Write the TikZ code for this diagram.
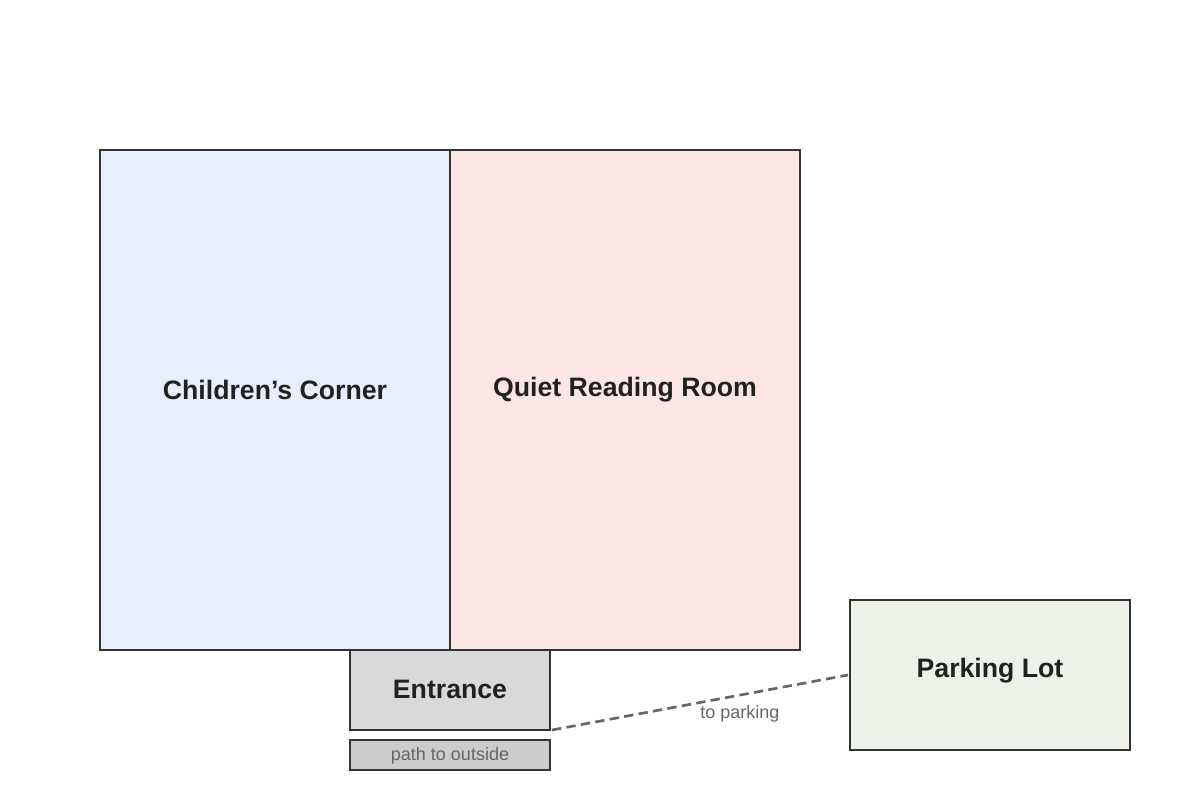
\documentclass[tikz,border=0pt]{standalone}
\usepackage{fontspec}
\setmainfont{Liberation Sans}
\begin{document}
\begin{tikzpicture}[x=0.75pt,y=-0.75pt,
  room/.style={draw=black!80,line width=2.2pt,inner sep=0pt},
  lbl/.style={font=\bfseries\fontsize{20}{24}\selectfont,text=black!87},
  small/.style={font=\fontsize{13.5}{16}\selectfont,text=black!60}]
\useasboundingbox (0,0) rectangle (1200,800);
\definecolor{cc}{HTML}{E8EEFB}
\definecolor{qr}{HTML}{FBE6E5}
\definecolor{en}{HTML}{D9D9D9}
\definecolor{po}{HTML}{CCCCCC}
\definecolor{pl}{HTML}{EDF2E8}
\filldraw[room,fill=cc] (100,150) rectangle (450,650);
\filldraw[room,fill=qr] (450,150) rectangle (800,650);
\filldraw[room,fill=en] (350,650) rectangle (550,730);
\filldraw[room,fill=po] (350,740) rectangle (550,770);
\filldraw[room,fill=pl] (850,600) rectangle (1130,750);
\node[lbl] (cc) at (275,390) {Children's Corner};
\node[lbl] (qr) at (625,390) {Quiet Reading Room};
\node[lbl] (en) at (450,689) {Entrance};
\node[small] (po) at (450,756) {path to outside};
\node[lbl] (pl) at (990,671) {Parking Lot};
\coordinate (a) at (552,730);
\coordinate (b) at (848,675);
\draw[black!60,line width=2pt,dash pattern=on 7pt off 4pt] (a) -- (b);
\node[small] (tp) at (740,714) {to parking};
\end{tikzpicture}
\end{document}
